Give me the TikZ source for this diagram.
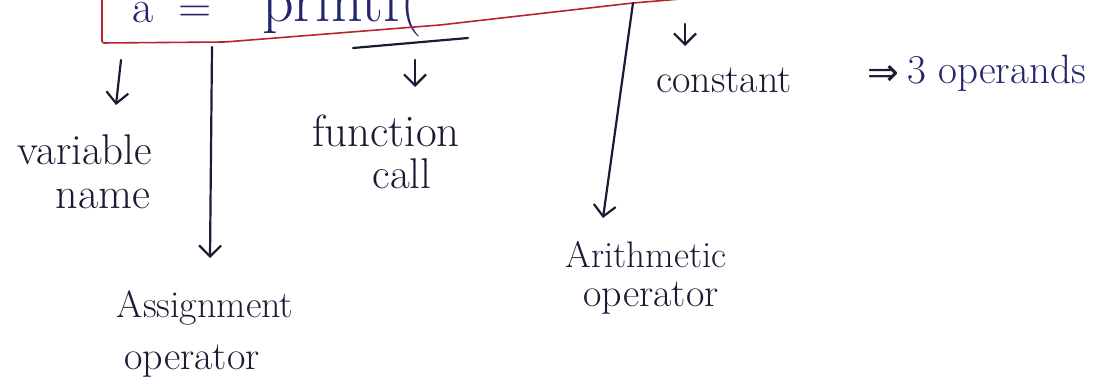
\documentclass[tikz,border=0pt]{standalone}
\usepackage{fontspec}
\usepackage{tikz}
\usetikzlibrary{arrows.meta}
\newfontfamily\symfont{DejaVu Sans}
\definecolor{ink}{HTML}{1B1B35}
\definecolor{pen}{HTML}{25256E}
\definecolor{boxred}{HTML}{B8232F}
\tikzset{>={Straight Barb[length=11pt,width=22pt]}}
\tikzset{
  lbl/.style={ink,inner sep=0pt,anchor=base},
  arr/.style={->,ink,line width=2.2pt,line cap=round},
  code/.style={pen,inner sep=0pt,anchor=base,font=\fontsize{46}{50}\selectfont},
}

\begin{document}
\begin{tikzpicture}[x=1pt,y=-1pt]
\useasboundingbox (0,0) rectangle (1117,387);
% statement in the red box, cut at the top
\node[code] (avar) at (143,23) {a};
\node[code] (assign) at (195,23) {=};
\node[code,anchor=base west,font=\fontsize{62}{66}\selectfont] (fcall) at (262,22) {printf(};
\draw[boxred,line width=1.6pt,rounded corners=2pt]
  (102,-10) -- (102,43) -- (225,42) -- (440,25) -- (633,3) -- (740,-6);
\coordinate (ul1) at (353,48);
\coordinate (ul2) at (468,38);
\draw[ink,line width=2.2pt,line cap=round] (ul1) -- (ul2);

% labels
\node[lbl,font=\fontsize{43}{46}\selectfont] (var) at (85,165) {variable};
\node[lbl,font=\fontsize{44}{46}\selectfont] (var2) at (103,209) {name};
\node[lbl,font=\fontsize{45}{48}\selectfont] (fun) at (386,147) {function};
\node[lbl,font=\fontsize{43}{46}\selectfont] (fun2) at (402,189) {call};
\node[lbl,font=\fontsize{38}{42}\selectfont] (asg) at (205,318) {Assignment};
\node[lbl,font=\fontsize{40}{44}\selectfont] (asg2) at (192,370) {operator};
\node[lbl,font=\fontsize{40}{44}\selectfont] (cst) at (724,93) {constant};
\node[ink,inner sep=0pt,font=\symfont\fontsize{38}{42}\selectfont] (impl) at (883,75) {⇒};
\node[lbl,pen,anchor=base west,font=\fontsize{41}{46}\selectfont] (ops) at (907,84) {3 operands};
\node[lbl,font=\fontsize{37}{40}\selectfont] (ari) at (646,268) {Arithmetic};
\node[lbl,font=\fontsize{40}{44}\selectfont] (ari2) at (651,307) {operator};

% arrows
\coordinate (vtail) at (121,60);   \coordinate (vtip) at (116,105);
\coordinate (ftail) at (415,60);   \coordinate (ftip) at (415,87);
\coordinate (ctail) at (685,24);   \coordinate (ctip) at (685,46);
\coordinate (atail) at (212,47);   \coordinate (atip) at (210,258);
\coordinate (rtail) at (633,3);    \coordinate (rtip) at (603,218);
\draw[arr] (vtail) -- (vtip);
\draw[arr] (ftail) -- (ftip);
\draw[arr] (ctail) -- (ctip);
\draw[arr] (atail) -- (atip);
\draw[arr] (rtail) -- (rtip);
\end{tikzpicture}
\end{document}
